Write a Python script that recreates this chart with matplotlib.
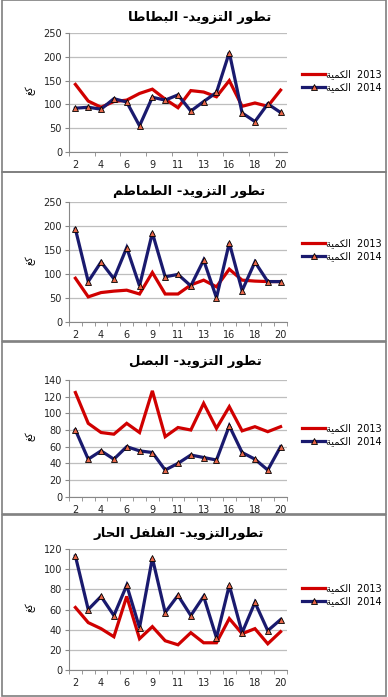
import numpy as np
import matplotlib
matplotlib.use('Agg')
import matplotlib.pyplot as plt
from matplotlib.lines import Line2D
from matplotlib.ticker import MultipleLocator

# --- data (kg) ---
days = ['2', '3', '4', '5', '6', '7', '9', '10', '11', '12', '13', '14', '16', '17', '18', '19', '20']

potato_2013 = [142, 107, 94, 106, 109, 123, 132, 111, 93, 129, 126, 116, 150, 96, 103, 96, 130]
potato_2014 = [92, 94, 90, 112, 105, 55, 115, 109, 120, 86, 106, 125, 209, 82, 64, 101, 83]

tomato_2013 = [91, 52, 61, 64, 66, 58, 103, 58, 58, 77, 87, 73, 110, 87, 85, 84, 84]
tomato_2014 = [194, 84, 125, 90, 155, 75, 186, 94, 99, 75, 129, 50, 165, 65, 125, 84, 84]

onion_2013 = [125, 88, 77, 75, 88, 77, 127, 72, 83, 80, 112, 82, 108, 79, 84, 78, 84]
onion_2014 = [80, 45, 55, 45, 60, 55, 53, 32, 40, 50, 47, 44, 85, 53, 45, 32, 60]

pepper_2013 = [62, 47, 41, 33, 73, 31, 43, 29, 25, 37, 27, 27, 51, 36, 41, 26, 38]
pepper_2014 = [113, 60, 73, 54, 84, 42, 111, 57, 74, 54, 73, 32, 84, 37, 67, 39, 50]

titles = ['تطور التزويد- البطاطا', 'تطور التزويد- الطماطم',
          'تطور التزويد- البصل', 'تطورالتزويد- الفلفل الحار']
series_name = 'الكمية'
years = ['2013', '2014']
unit = 'كغ'

# --- minimal arabic shaping (matplotlib does no shaping / bidi) ---
FORMS = {
    'ا': (0xFE8D, 0xFE8E, None, None),
    'ب': (0xFE8F, 0xFE90, 0xFE91, 0xFE92),
    'ة': (0xFE93, 0xFE94, None, None),
    'ت': (0xFE95, 0xFE96, 0xFE97, 0xFE98),
    'ح': (0xFEA1, 0xFEA2, 0xFEA3, 0xFEA4),
    'د': (0xFEA9, 0xFEAA, None, None),
    'ر': (0xFEAD, 0xFEAE, None, None),
    'ز': (0xFEAF, 0xFEB0, None, None),
    'ص': (0xFEB9, 0xFEBA, 0xFEBB, 0xFEBC),
    'ط': (0xFEC1, 0xFEC2, 0xFEC3, 0xFEC4),
    'غ': (0xFECD, 0xFECE, 0xFECF, 0xFED0),
    'ف': (0xFED1, 0xFED2, 0xFED3, 0xFED4),
    'ك': (0xFED9, 0xFEDA, 0xFEDB, 0xFEDC),
    'ل': (0xFEDD, 0xFEDE, 0xFEDF, 0xFEE0),
    'م': (0xFEE1, 0xFEE2, 0xFEE3, 0xFEE4),
    'و': (0xFEED, 0xFEEE, None, None),
    'ي': (0xFEF1, 0xFEF2, 0xFEF3, 0xFEF4),
}


def ar(s):
    out = []
    for i, c in enumerate(s):
        if c not in FORMS:
            out.append(c)
            continue
        prev = s[i - 1] if i > 0 else None
        nxt = s[i + 1] if i + 1 < len(s) else None
        jp = prev in FORMS and FORMS[prev][2] is not None
        jn = nxt in FORMS and FORMS[c][2] is not None
        if jp and jn:
            f = FORMS[c][3]
        elif jp:
            f = FORMS[c][1]
        elif jn:
            f = FORMS[c][2]
        else:
            f = FORMS[c][0]
        out.append(chr(f))
    return ''.join(out)[::-1]


RED = '#D00000'
NAVY = '#1A1A6E'
MARK = '#E8674A'

plt.rcParams['font.family'] = ['DejaVu Sans']

fig = plt.figure(figsize=(3.88, 6.97), dpi=100)
H = 697.0
W = 388.0

panels = [
    dict(d13=potato_2013, d14=potato_2014, top=33, bot=152, ymax=250, step=50,
         title_x=200, title_y=17, leg_y=81, minor=2, box=(0, 172)),
    dict(d13=tomato_2013, d14=tomato_2014, top=202.3, bot=321.7, ymax=250, step=50,
         title_x=189, title_y=191, leg_y=250, minor=1, box=(172, 341)),
    dict(d13=onion_2013, d14=onion_2014, top=380, bot=496.7, ymax=140, step=20,
         title_x=195, title_y=362, leg_y=435, minor=1, box=(342, 514)),
    dict(d13=pepper_2013, d14=pepper_2014, top=549, bot=670, ymax=120, step=20,
         title_x=179, title_y=534, leg_y=595, minor=1, box=(515, 696)),
]

x = np.arange(len(days))
left, right = 69, 287

for i, p in enumerate(panels):
    ax = fig.add_axes([left / W, 1 - p['bot'] / H, (right - left) / W, (p['bot'] - p['top']) / H])
    ax.plot(x, p['d13'], color=RED, lw=2.3, solid_joinstyle='miter', zorder=3)
    ax.plot(x, p['d14'], color=NAVY, lw=2.3, marker='^', ms=4.5, mfc=MARK, mec='black',
            mew=0.6, solid_joinstyle='miter', zorder=4)
    ax.set_xlim(-0.5, len(days) - 0.5)
    ax.set_ylim(0, p['ymax'])
    ax.yaxis.set_major_locator(MultipleLocator(p['step']))
    ax.grid(axis='y', color='#BEBEBE', lw=0.9)
    ax.set_axisbelow(True)
    ax.set_xticks(x[::2])
    ax.set_xticklabels(days[::2])
    ax.set_xticks(np.arange(-0.5, len(days), p['minor']), minor=True)
    ax.tick_params(axis='x', which='major', length=0, pad=6, labelsize=7, labelcolor='#222222')
    ax.tick_params(axis='x', which='minor', length=3, color='#888888', direction='out')
    ax.tick_params(axis='y', length=3, color='#888888', labelsize=7, labelcolor='#222222', pad=2)
    for s in ['top', 'right']:
        ax.spines[s].set_visible(False)
    for s in ['left', 'bottom']:
        ax.spines[s].set_color('#888888')
        ax.spines[s].set_linewidth(0.8)

    fig.text(p['title_x'] / W, 1 - p['title_y'] / H, ar(titles[i]), ha='center', va='center',
             fontsize=9.5, fontweight='bold', color='black')
    fig.text(30 / W, 1 - ((p['top'] + p['bot']) / 2 - 2) / H, ar(unit), rotation=90,
             ha='center', va='center', fontsize=7, color='black')

    handles = [Line2D([], [], color=RED, lw=2.3),
               Line2D([], [], color=NAVY, lw=2.3, marker='^', ms=4.5, mfc=MARK, mec='black', mew=0.6)]
    labels = [ar(series_name) + '  ' + y for y in years]
    fig.legend(handles, labels, loc='center left',
               bbox_to_anchor=(302 / W, 1 - p['leg_y'] / H), frameon=False,
               fontsize=7, handlelength=2.4, handletextpad=0.1, labelspacing=0.3,
               borderaxespad=0, borderpad=0)

    y0, y1 = p['box']
    fig.add_artist(plt.Rectangle((1.5 / W, 1 - y1 / H), 384.5 / W, (y1 - y0) / H,
                                 transform=fig.transFigure, fill=False,
                                 edgecolor='#7F7F7F', lw=1.2))

fig.savefig('out.png', dpi=100)
